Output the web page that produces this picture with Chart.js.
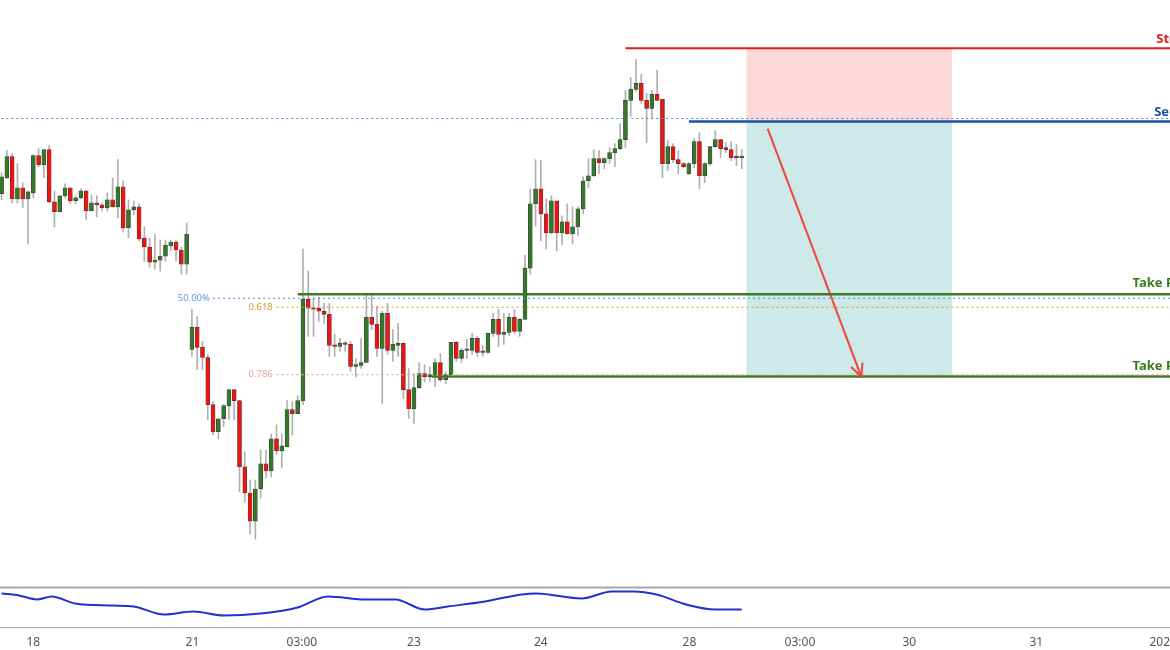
<!DOCTYPE html>
<html>
<head>
<meta charset="utf-8">
<script src="https://cdn.jsdelivr.net/npm/chart.js@4.4.0/dist/chart.umd.min.js"></script>
<style>
  html, body { margin: 0; padding: 0; background: #fff; }
  #wrap { width: 1170px; height: 650px; }
</style>
</head>
<body>
<div id="wrap"><canvas id="chart"></canvas></div>
<script>
// --- Candle data (one entry per bar) ---
const opens = [407,423,444,402,413,402,408,445,436,451,399,389,405,413,400,403,410,390,398,396,393,401,394,414,373,391,394,363,354,339,341,345,355,359,351,337,
  252,274,254,244,197,170,183,196,212,201,135,109,81,113,138,131,163,151,155,192,188,201,302,293,293,290,287,256,255,258,257,235,236,239,284,277,253,
  288,251,256,258,212,193,214,228,225,227,239,222,227,259,243,251,251,263,250,249,268,282,267,269,284,270,282,333,397,412,387,368,400,368,379,
  367,374,392,420,425,442,438,442,448,452,461,500,511,517,500,492,506,501,437,454,441,437,427,437,459,425,437,454,461,453,451,444,443];
const highs = [428,450,447,437,418,410,446,452,451,455,410,405,417,413,405,412,410,406,405,398,408,423,441,420,401,400,397,374,363,367,361,361,361,361,354,378,
  292,285,260,247,200,183,197,212,212,201,150,122,122,152,152,168,177,168,201,200,206,352,330,303,304,298,298,267,263,260,260,243,263,307,307,295,290,
  298,272,278,258,233,228,239,237,235,243,248,230,259,260,253,262,268,265,256,268,288,292,288,288,292,283,346,412,441,440,402,405,400,385,397,
  394,394,424,442,451,450,443,453,457,477,510,523,541,526,507,510,530,501,460,457,450,438,438,462,468,438,454,470,461,458,459,456,451];
const lows = [401,422,398,398,393,357,403,434,423,398,374,389,403,397,397,402,381,390,384,390,390,394,383,369,363,386,360,340,334,332,330,340,350,340,327,327,
  245,232,232,182,167,163,175,182,182,110,100,68,63,104,124,125,147,134,155,167,188,197,265,265,280,278,245,245,250,250,230,225,233,239,272,245,198,
  247,240,245,203,183,178,213,220,220,215,220,218,227,240,239,243,247,245,245,248,265,255,257,266,268,265,282,327,375,360,352,367,350,356,367,
  357,365,387,413,424,427,432,437,434,451,453,484,509,497,458,482,500,423,430,438,427,433,426,433,412,418,435,453,443,448,440,435,432];
const closes = [424,444,402,413,402,409,445,436,451,399,389,405,413,400,403,410,390,398,396,393,401,394,414,373,391,394,362,354,339,341,345,356,359,351,337,367,
  274,254,244,197,170,183,196,212,201,135,109,81,113,138,131,163,151,156,192,188,201,302,293,292,290,287,256,255,258,257,235,237,239,284,277,253,288,
  251,257,258,212,193,214,228,225,227,239,222,227,259,243,251,251,263,249,249,268,282,267,269,284,270,282,333,397,412,387,368,400,368,379,367,
  374,392,420,425,442,438,442,448,452,461,500,511,517,500,492,506,500,437,454,441,437,434,437,459,425,437,454,461,452,451,443,443,444];

// oscillator in lower pane (bar index, value)
const oscIndex = [0,3.3,6.7,9.5,13.9,20.9,25,30.7,36.3,42,49,56,61.7,68.9,74.5,80,84.4,91.4,98.4,101.2,109.7,115.4,119.5,123.9,129.5,135,140];
const oscValues = [29,27,23,26,19,17,16,8,11,7,9,15,26,23,23,13,16,21,28,29,24,31,31,28,18,13,13];

// x axis labels
const tickIndex = [6, 36.1, 56.8, 78, 102, 130.1, 151, 171.7, 195.7, 219.7];
const tickLabels = ['18', '21', '03:00', '23', '24', '28', '03:00', '30', '31', '2020'];

// trade levels
const stopLevel = 552, sellLevel = 479, tp1Level = 307, tp2Level = 225;
const fibLevels = [482, 303, 294, 227];
const X_MAX = 221;

const green = '#36782a', red = '#ee1410';
const bodyColors = closes.map((c, i) => c >= opens[i] ? green : red);
const wicks = highs.map((h, i) => ({ x: i, y: [lows[i], h] }));
const bodies = opens.map((o, i) => {
    let a = Math.min(o, closes[i]), b = Math.max(o, closes[i]);
    if (b - a < 1.5) b = a + 1.5; // keep dojis visible
    return { x: i, y: [a, b] };
});

function hline(y, x0, color, width, dash) {
    return {
        type: 'line', yAxisID: 'y', data: [{ x: x0, y: y }, { x: X_MAX, y: y }],
        borderColor: color, borderWidth: width, borderDash: dash || [],
        pointRadius: 0, order: 0
    };
}

// boxes, arrow head, level texts and pane borders
const overlayPlugin = {
    id: 'overlay',
    beforeDatasetsDraw(chart) {
        const { ctx, scales: { x, y } } = chart;
        ctx.save();
        ctx.fillStyle = '#fddad9';
        ctx.fillRect(x.getPixelForValue(140.9), y.getPixelForValue(stopLevel),
            x.getPixelForValue(179.8) - x.getPixelForValue(140.9), y.getPixelForValue(sellLevel) - y.getPixelForValue(stopLevel));
        ctx.fillStyle = '#cde9e8';
        ctx.fillRect(x.getPixelForValue(140.9), y.getPixelForValue(sellLevel),
            x.getPixelForValue(179.8) - x.getPixelForValue(140.9), y.getPixelForValue(tp2Level) - y.getPixelForValue(sellLevel));
        ctx.restore();
    },
    afterDatasetsDraw(chart) {
        const { ctx, scales: { x, y, y2 } } = chart;
        ctx.save();
        // arrow head
        const x1 = x.getPixelForValue(144.9), y1 = y.getPixelForValue(472);
        const x2 = x.getPixelForValue(162.6), y2p = y.getPixelForValue(tp2Level);
        const ang = Math.atan2(y2p - y1, x2 - x1);
        ctx.strokeStyle = '#f0453a'; ctx.lineWidth = 2;
        ctx.beginPath();
        ctx.moveTo(x2 - 14 * Math.cos(ang - 0.45), y2p - 14 * Math.sin(ang - 0.45));
        ctx.lineTo(x2, y2p);
        ctx.lineTo(x2 - 14 * Math.cos(ang + 0.45), y2p - 14 * Math.sin(ang + 0.45));
        ctx.stroke();
        // level texts
        ctx.font = 'bold 13px "Noto Sans"';
        ctx.textBaseline = 'alphabetic';
        ctx.textAlign = 'left';
        ctx.fillStyle = '#e31b1b';
        ctx.fillText('Stop Loss', x.getPixelForValue(218.4), y.getPixelForValue(stopLevel) - 5);
        ctx.fillStyle = '#1a4fa3';
        ctx.fillText('Sell', x.getPixelForValue(218), y.getPixelForValue(sellLevel) - 6);
        ctx.fillStyle = '#3a7a22';
        ctx.fillText('Take Profit', x.getPixelForValue(213.9), y.getPixelForValue(tp1Level) - 7);
        ctx.fillText('Take Profit', x.getPixelForValue(213.9), y.getPixelForValue(tp2Level) - 7);
        // fib labels
        ctx.font = '9.5px "Noto Sans"';
        ctx.textAlign = 'right';
        ctx.textBaseline = 'middle';
        ctx.fillStyle = '#5b9bd8';
        ctx.fillText('50.00%', x.getPixelForValue(39.4), y.getPixelForValue(303));
        ctx.fillStyle = '#d4a017';
        ctx.fillText('0.618', x.getPixelForValue(51.3), y.getPixelForValue(294));
        ctx.fillStyle = '#f0a0a0';
        ctx.fillText('0.786', x.getPixelForValue(51.3), y.getPixelForValue(227));
        // pane borders
        ctx.strokeStyle = '#a8a8a8'; ctx.lineWidth = 2;
        ctx.beginPath(); ctx.moveTo(0, y2.top); ctx.lineTo(chart.width, y2.top); ctx.stroke();
        ctx.strokeStyle = '#9a9a9a'; ctx.lineWidth = 1;
        ctx.beginPath(); ctx.moveTo(0, y2.bottom); ctx.lineTo(chart.width, y2.bottom); ctx.stroke();
        ctx.restore();
    }
};

new Chart(document.getElementById('chart'), {
    type: 'bar',
    data: {
        datasets: [
            hline(fibLevels[0], -1, '#4a90d9', 1.2, [2, 3]),
            hline(fibLevels[1], 40, '#4a90d9', 1.2, [2, 3]),
            hline(fibLevels[2], 52, '#d4a017', 1.2, [2, 3]),
            hline(fibLevels[3], 52, '#f2a8a8', 1.2, [2, 3]),
            hline(stopLevel, 118, '#e31b1b', 2),
            hline(sellLevel, 130, '#1f4fa0', 2.5),
            hline(tp1Level, 56, '#3f7a24', 2.5),
            hline(tp2Level, 81.3, '#3f7a24', 2.5),
            {
                type: 'line', yAxisID: 'y', data: [{ x: 144.9, y: 472 }, { x: 162.6, y: tp2Level }],
                borderColor: '#f0453a', borderWidth: 2, pointRadius: 0, order: 0
            },
            {
                label: 'wick', data: wicks, yAxisID: 'y', backgroundColor: '#b0b0b0',
                barThickness: 1, grouped: false, order: 2
            },
            {
                label: 'body', data: bodies, yAxisID: 'y', backgroundColor: bodyColors,
                borderColor: '#3c3c3c', borderWidth: 0.6, borderSkipped: false,
                barThickness: 4, grouped: false, order: 1
            },
            {
                type: 'line', yAxisID: 'y2', data: oscIndex.map((v, i) => ({ x: v, y: oscValues[i] })),
                borderColor: '#2430d0', borderWidth: 2, pointRadius: 0, tension: 0.4, cubicInterpolationMode: 'monotone'
            }
        ]
    },
    options: {
        responsive: true,
        maintainAspectRatio: false,
        animation: false,
        layout: { padding: 0 },
        plugins: { legend: { display: false }, tooltip: { enabled: false } },
        scales: {
            x: {
                type: 'linear', min: -0.3, max: X_MAX, offset: false,
                grid: { display: false }, border: { display: false },
                afterBuildTicks: axis => { axis.ticks = tickIndex.map(v => ({ value: v })); },
                afterFit: axis => { axis.paddingLeft = 0; axis.paddingRight = 0; },
                ticks: {
                    autoSkip: false, maxRotation: 0, padding: 0,
                    color: '#555', font: { family: 'Noto Sans', size: 12 },
                    callback: (v, i) => tickLabels[i]
                }
            },
            y2: {
                stack: 'pane', stackWeight: 40, min: -5, max: 35, offset: false,
                grid: { display: false }, border: { display: false },
                ticks: { display: false },
                afterFit: axis => { axis.width = 0; }
            },
            y: {
                stack: 'pane', stackWeight: 585, min: 15, max: 600,
                grid: { display: false }, border: { display: false },
                ticks: { display: false },
                afterFit: axis => { axis.width = 0; }
            }
        }
    },
    plugins: [overlayPlugin]
});
</script>
</body>
</html>
